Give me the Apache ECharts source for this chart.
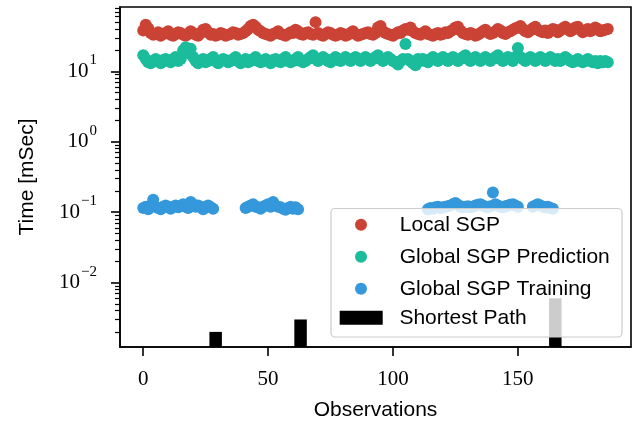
<!DOCTYPE html>
<html>
<head>
<meta charset="utf-8">
<script src="https://cdn.jsdelivr.net/npm/echarts@6/dist/echarts.min.js"></script>
<style>html,body{margin:0;padding:0;background:#fff}#c{width:638px;height:422px}</style>
</head>
<body>
<div id="c"></div>
<script>
// ---- data (observation index = position in array) ----
const localSGP = [
  38, 46, 41, 35, 33, 34, 36, 32, 34, 35,
  37, 33, 32, 34, 36, 35, 33, 32, 34, 37,
  35, 33, 32, 35, 39, 40, 36, 33, 34, 32,
  33, 35, 34, 32, 33, 34, 36, 35, 33, 34,
  35, 37, 40, 44, 46, 43, 39, 37, 35, 34,
  33, 32, 34, 35, 37, 34, 33, 32, 34, 36,
  35, 39, 37, 34, 33, 35, 36, 34, 33, 50,
  35, 33, 32, 34, 36, 35, 33, 32, 33, 35,
  34, 32, 33, 35, 37, 34, 32, 33, 34, 35,
  36, 34, 33, 35, 42, 44, 37, 35, 34, 33,
  32, 34, 36, 35, 38, 40, 39, 42, 37, 35,
  34, 33, 35, 37, 34, 33, 32, 34, 35, 33,
  34, 36, 35, 37, 39, 42, 43, 38, 35, 34,
  33, 35, 34, 32, 33, 35, 37, 39, 36, 34,
  35, 37, 40, 38, 35, 34, 36, 37, 39, 41,
  42, 44, 40, 37, 36, 38, 41, 43, 39, 37,
  36, 38, 35, 37, 40, 39, 36, 38, 41, 43,
  40, 37, 39, 42, 43, 39, 36, 38, 40, 37,
  39, 42, 40, 37, 38, 39, 40
];
const globalPred = [
  17, 15, 13.5, 13, 14, 15, 14, 13, 14.5, 15,
  14, 13.5, 15, 16, 14, 15, 20, 22, 18, 21,
  16, 14, 13, 14, 15, 13.5, 14, 15, 16, 14,
  13, 14, 15, 14.5, 13.5, 14, 15, 16, 14, 13,
  14, 15, 13.5, 14, 15, 16, 14, 13.5, 14, 15,
  14, 13, 14.5, 15, 14, 13.5, 15, 16, 14, 13.5,
  14, 15, 16, 14, 13.5, 14, 15, 16, 17, 15,
  14, 15, 16, 15, 14, 13.5, 15, 16, 14.5, 14,
  15, 16, 15, 14, 15, 16, 15, 14, 15, 16,
  15, 14, 15, 16, 17, 15, 14, 15, 16, 15,
  14, 13.5, 12.5, 14, 15, 24.5, 15, 14, 13, 12.2,
  15, 14, 15, 14, 13.5, 15, 16, 15, 14, 15,
  16, 15, 14, 15, 16, 15, 14, 15, 16, 17,
  15, 14, 15, 16, 15, 14, 15, 16, 15, 14,
  15, 16, 17, 15, 14, 15, 16, 15, 14, 16,
  21.5, 16, 15, 14, 15, 16, 15, 14, 15, 16,
  15, 14, 15, 16, 15, 14, 15, 14, 15, 16,
  15, 14, 13.5, 14, 15, 14, 13.5, 14, 15, 14,
  13.5, 14, 13, 14, 13.5, 14, 13.5
];
const N = null;
const globalTrain = [
  0.115, 0.12, 0.11, 0.125, 0.15, 0.12, 0.115, 0.11, 0.12, 0.125,
  0.118, 0.112, 0.12, 0.125, 0.118, 0.122, 0.13, 0.12, 0.115, 0.14,
  0.13, 0.12, 0.125, 0.118, 0.11, 0.12, 0.125, 0.118, 0.112, N,
  N, N, N, N, N, N, N, N, N, N,
  N, 0.115, 0.12, 0.125, 0.13, 0.12, 0.118, 0.112, 0.12, 0.125,
  0.13, 0.12, 0.14, 0.125, 0.12, 0.118, 0.112, 0.108, 0.115, 0.12,
  0.112, 0.118, 0.11, N, N, N, N, N, N, N,
  N, N, N, N, N, N, N, N, N, N,
  N, N, N, N, N, N, N, N, N, N,
  N, N, N, N, N, N, N, N, N, N,
  N, N, N, N, N, N, N, N, N, N,
  N, N, N, N, 0.11, 0.115, 0.112, 0.118, 0.12, 0.115,
  0.118, 0.12, 0.122, 0.125, 0.13, 0.135, 0.128, 0.12, 0.118, 0.12,
  0.122, 0.118, 0.12, 0.125, 0.128, 0.13, 0.125, 0.12, 0.118, 0.122,
  0.19, 0.13, 0.125, 0.12, 0.118, 0.122, 0.125, 0.128, 0.13, 0.125,
  0.12, N, N, N, N, N, 0.12, 0.125, 0.13, 0.125,
  0.12, 0.118, 0.12, 0.115, 0.112, N, N, N, N, N,
  N, N, N, N, N, N, N, N, N, N,
  N, N, N, N, N, N, N
];
const pathObs = [29, 63, 165];
const pathTime = [0.002, 0.003, 0.006];
const xTicks = [0, 50, 100, 150];
const yMajorTicks = [0.01, 0.1, 1, 10];
const yMinorTicks = [0.002,0.003,0.004,0.005,0.006,0.007,0.008,0.009,
  0.02,0.03,0.04,0.05,0.06,0.07,0.08,0.09,
  0.2,0.3,0.4,0.5,0.6,0.7,0.8,0.9,
  2,3,4,5,6,7,8,9,20,30,40,50,60,70,80];
const seriesNames = ['Local SGP', 'Global SGP Prediction', 'Global SGP Training', 'Shortest Path'];

// ---- build ----
const toPairs = arr => arr.map((v, i) => [i, v]).filter(p => p[1] !== null);
const BAR_W = 5;
const COLORS = ['#CB4335', '#1ABC9C', '#3498DB', '#000000'];
const SERIF = 'Liberation Serif';
const SANS = 'Liberation Sans';

const chart = echarts.init(document.getElementById('c'), null, {renderer: 'canvas'});
const supFmt = v => {
  const e = Math.round(Math.log10(v));
  const s = e < 0 ? '\u2212' + (-e) : '' + e;
  return '{b|10}{s|' + s + '}';
};
chart.setOption({
  animation: false,
  grid: {left: 120, right: 7, top: 7, bottom: 75, outerBoundsMode: 'none', containLabel: false,
    show: true, borderColor: '#000', borderWidth: 1.6, backgroundColor: 'transparent'},
  xAxis: {
    type: 'value', min: -9.3, max: 195.3,
    name: 'Observations', nameLocation: 'middle', nameGap: 53,
    nameTextStyle: {fontFamily: SANS, fontSize: 21, color: '#000'},
    axisLine: {show: true, onZero: false, lineStyle: {color: '#000', width: 1.6}},
    axisTick: {show: true, customValues: xTicks, length: 9, lineStyle: {color: '#000', width: 1.6}},
    axisLabel: {customValues: xTicks, fontFamily: SERIF, fontSize: 21, color: '#000', margin: 22},
    splitLine: {show: false}
  },
  yAxis: [{
    type: 'log', logBase: 10, min: 0.00122, max: 82,
    name: 'Time [mSec]', nameLocation: 'middle', nameGap: 82, nameRotate: 90,
    nameTextStyle: {fontFamily: SANS, fontSize: 21, color: '#000'},
    axisLine: {show: true, onZero: false, lineStyle: {color: '#000', width: 1.6}},
    axisTick: {show: true, customValues: yMajorTicks, length: 9, lineStyle: {color: '#000', width: 1.6}},
    axisLabel: {
      customValues: yMajorTicks, margin: 23, formatter: supFmt,
      rich: {
        b: {fontFamily: SERIF, fontSize: 21, color: '#000', lineHeight: 21, verticalAlign: 'bottom'},
        s: {fontFamily: SERIF, fontSize: 15, color: '#000', lineHeight: 15, verticalAlign: 'bottom', padding: [0, 0, 14, 1]}
      }
    },
    splitLine: {show: false}
  }, {
    type: 'log', logBase: 10, min: 0.00122, max: 82, position: 'left',
    axisLine: {show: false, onZero: false},
    axisTick: {show: true, customValues: yMinorTicks, length: 5, lineStyle: {color: '#000', width: 1.2}},
    axisLabel: {show: false},
    splitLine: {show: false}
  }],
  graphic: [{
    type: 'rect', z: 50, silent: true,
    shape: {x: 331, y: 208.5, width: 291, height: 128.5, r: 4},
    style: {fill: 'rgba(255,255,255,0.8)', stroke: '#cccccc', lineWidth: 1.2}
  }],
  legend: [{
    z: 60, selectedMode: false, orient: 'vertical', left: 355, top: 214.3, padding: 0,
    itemWidth: 12, itemHeight: 12, itemGap: 11,
    textStyle: {fontFamily: SANS, fontSize: 21, color: '#000', lineHeight: 20, padding: [0, 0, 0, 27.7]},
    data: seriesNames.slice(0, 3).map(n => ({name: n, icon: 'circle'}))
  }, {
    z: 60, selectedMode: false, orient: 'vertical', left: 339.7, top: 307.3, padding: 0,
    itemWidth: 43, itemHeight: 14, itemGap: 11,
    textStyle: {fontFamily: SANS, fontSize: 21, color: '#000', lineHeight: 20, padding: [0, 0, 0, 11.7]},
    data: [{name: seriesNames[3], icon: 'rect'}]
  }],
  series: [
    {name: seriesNames[0], type: 'scatter', symbolSize: 12, itemStyle: {color: COLORS[0], opacity: 1}, data: toPairs(localSGP)},
    {name: seriesNames[1], type: 'scatter', symbolSize: 12, itemStyle: {color: COLORS[1], opacity: 1}, data: toPairs(globalPred)},
    {name: seriesNames[2], type: 'scatter', symbolSize: 12, itemStyle: {color: COLORS[2], opacity: 1}, data: toPairs(globalTrain)},
    {
      name: seriesNames[3], type: 'custom', itemStyle: {color: COLORS[3]},
      data: pathObs.map((x, i) => [x, pathTime[i]]),
      renderItem: (params, api) => {
        const x = api.value(0), v = api.value(1);
        const p0 = api.coord([x - BAR_W / 2, v]);
        const p1 = api.coord([x + BAR_W / 2, v]);
        const cs = params.coordSys;
        const bottom = cs.y + cs.height;
        return {type: 'rect', shape: {x: p0[0], y: p0[1], width: p1[0] - p0[0], height: bottom - p0[1]}, style: {fill: COLORS[3]}};
      }
    }
  ]
});
</script>
</body>
</html>
